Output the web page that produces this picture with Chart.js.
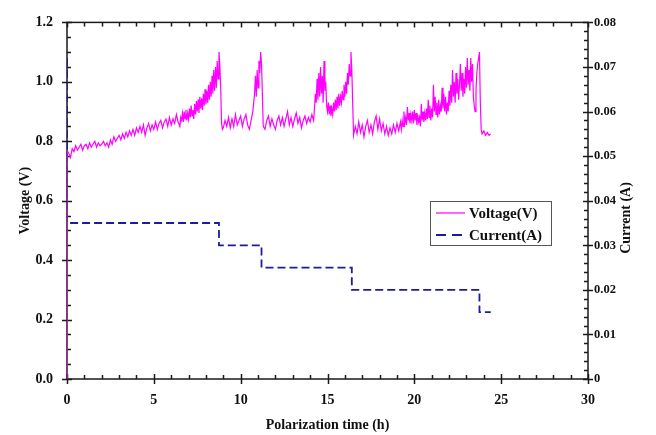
<!DOCTYPE html>
<html>
<head>
<meta charset="utf-8">
<script src="https://cdn.jsdelivr.net/npm/chart.js@4.4.1/dist/chart.umd.min.js"></script>
<style>
html,body{margin:0;padding:0;background:#fff;}
#wrap{width:656px;height:435px;position:relative;}
</style>
</head>
<body>
<div id="wrap"><canvas id="c" width="656" height="435"></canvas></div>
<script>
// ---- data: [time (h), voltage (V)] ----
const voltageReadings = [
[0,0],[0,0.77],[0.1,0.76],[0.2,0.745],[0.3,0.775],[0.4,0.765],[0.5,0.785],[0.6,0.77],[0.7,0.78],[0.8,0.79],[0.9,0.77],
[1.0,0.785],[1.1,0.79],[1.2,0.775],[1.3,0.795],[1.4,0.78],[1.5,0.79],[1.6,0.8],[1.7,0.78],[1.8,0.795],[1.9,0.785],
[2.0,0.79],[2.1,0.8],[2.2,0.785],[2.3,0.795],[2.4,0.78],[2.5,0.805],[2.6,0.79],[2.7,0.815],[2.8,0.8],[2.9,0.81],
[3.0,0.82],[3.1,0.805],[3.2,0.825],[3.3,0.81],[3.4,0.83],[3.5,0.815],[3.6,0.835],[3.7,0.82],[3.8,0.84],[3.9,0.82],
[4.0,0.845],[4.1,0.83],[4.2,0.85],[4.3,0.83],[4.4,0.855],[4.5,0.82],[4.6,0.845],[4.7,0.86],[4.8,0.835],[4.9,0.855],
[5.0,0.84],[5.1,0.865],[5.2,0.84],[5.3,0.86],[5.4,0.87],[5.5,0.845],[5.6,0.865],[5.7,0.875],[5.8,0.85],[5.9,0.88],
[6.0,0.855],[6.1,0.875],[6.2,0.86],[6.3,0.89],[6.4,0.865],[6.5,0.85],[6.55,0.88],[6.6,0.87],[6.65,0.895],[6.7,0.865],
[6.75,0.9],[6.8,0.875],[6.85,0.905],[6.9,0.87],[6.95,0.895],[7.0,0.875],[7.05,0.91],[7.1,0.88],[7.15,0.92],[7.2,0.885],
[7.25,0.905],[7.3,0.875],[7.35,0.925],[7.4,0.89],[7.45,0.935],[7.5,0.9],[7.55,0.94],[7.6,0.895],[7.65,0.95],[7.7,0.91],
[7.75,0.945],[7.8,0.905],[7.85,0.96],[7.9,0.92],[7.95,0.975],[8.0,0.925],[8.05,0.97],[8.1,0.93],[8.15,0.99],[8.2,0.94],
[8.25,1.0],[8.3,0.95],[8.35,1.02],[8.4,0.96],[8.45,1.04],[8.5,0.97],[8.55,1.05],[8.6,0.98],[8.65,1.07],[8.7,1.01],
[8.75,1.10],[8.8,1.06],[8.85,0.98],[8.9,0.86],[8.95,0.84],
[9.0,0.845],[9.1,0.87],[9.2,0.85],[9.3,0.88],[9.4,0.845],[9.5,0.875],[9.6,0.85],[9.7,0.89],[9.8,0.855],[9.9,0.87],
[10.0,0.885],[10.1,0.85],[10.2,0.875],[10.3,0.89],[10.4,0.855],[10.5,0.84],[10.6,0.87],[10.7,0.9],[10.8,0.96],
[10.85,1.02],[10.9,0.95],[10.95,1.04],[11.0,0.98],[11.05,1.07],[11.1,1.03],[11.15,1.10],[11.2,1.06],[11.25,0.96],
[11.3,0.85],[11.4,0.84],[11.5,0.87],[11.6,0.885],[11.7,0.85],[11.8,0.875],[11.9,0.855],
[12.0,0.84],[12.1,0.87],[12.2,0.885],[12.3,0.855],[12.4,0.88],[12.5,0.85],[12.6,0.875],[12.7,0.9],[12.8,0.855],[12.9,0.88],
[13.0,0.85],[13.1,0.875],[13.2,0.895],[13.3,0.86],[13.4,0.88],[13.5,0.845],[13.6,0.87],[13.7,0.885],[13.8,0.86],[13.9,0.88],
[14.0,0.865],[14.1,0.89],[14.2,0.87],[14.25,0.91],[14.3,0.96],[14.35,0.93],[14.4,1.01],[14.45,0.94],[14.5,1.03],
[14.55,0.95],[14.6,1.05],[14.65,0.96],[14.7,1.02],[14.75,0.93],[14.8,1.07],[14.85,0.97],[14.9,1.0],[14.95,0.92],
[15.0,0.9],[15.05,0.93],[15.1,0.89],[15.15,0.92],[15.2,0.885],[15.25,0.91],[15.3,0.89],[15.35,0.93],[15.4,0.9],
[15.45,0.94],[15.5,0.905],[15.55,0.95],[15.6,0.91],[15.65,0.96],[15.7,0.92],[15.75,0.95],[15.8,0.93],[15.85,0.97],
[15.9,0.94],[15.95,0.99],[16.0,0.95],[16.05,1.0],[16.1,0.96],[16.15,1.03],[16.2,0.99],[16.25,1.06],[16.3,1.02],
[16.35,1.10],[16.4,1.04],[16.45,0.93],[16.5,0.82],
[16.6,0.85],[16.7,0.825],[16.8,0.865],[16.9,0.83],[17.0,0.855],[17.1,0.815],[17.2,0.85],[17.3,0.87],[17.4,0.83],
[17.5,0.855],[17.6,0.825],[17.7,0.865],[17.8,0.885],[17.9,0.84],[18.0,0.875],[18.1,0.835],[18.2,0.86],[18.3,0.825],
[18.4,0.85],[18.5,0.82],[18.6,0.845],[18.7,0.825],[18.8,0.855],[18.9,0.83],[19.0,0.86],[19.1,0.835],[19.2,0.865],
[19.25,0.84],[19.3,0.87],[19.35,0.85],[19.4,0.9],[19.45,0.86],[19.5,0.88],[19.55,0.855],[19.6,0.915],[19.65,0.87],
[19.7,0.895],[19.75,0.86],[19.8,0.89],[19.85,0.87],[19.9,0.9],[19.95,0.86],[20.0,0.905],[20.05,0.87],[20.1,0.895],
[20.15,0.855],[20.2,0.89],[20.25,0.865],[20.3,0.88],[20.35,0.85],[20.4,0.925],[20.45,0.87],[20.5,0.9],[20.55,0.865],
[20.6,0.895],[20.65,0.87],[20.7,0.91],[20.75,0.875],[20.8,0.94],[20.85,0.88],[20.9,0.92],[20.95,0.87],[21.0,0.91],
[21.05,0.88],[21.1,0.99],[21.15,0.9],[21.2,0.95],[21.25,0.89],[21.3,0.93],[21.35,0.88],[21.4,0.94],[21.45,0.89],
[21.5,0.92],[21.55,0.9],[21.6,0.98],[21.65,0.91],[21.7,0.96],[21.75,0.9],[21.8,0.95],[21.85,0.89],[21.9,0.93],
[21.95,0.9],[22.0,0.97],[22.05,0.92],[22.1,0.99],[22.15,0.93],[22.2,1.04],[22.25,0.95],[22.3,1.0],[22.35,0.93],
[22.4,1.03],[22.45,0.96],[22.5,1.01],[22.55,0.94],[22.6,0.99],[22.65,1.06],[22.7,0.97],[22.75,1.03],[22.8,0.95],
[22.85,1.01],[22.9,0.96],[22.95,1.05],[23.0,0.98],[23.05,1.08],[23.1,0.99],[23.15,1.04],[23.2,0.97],[23.25,1.08],
[23.3,1.0],[23.35,1.06],[23.4,0.95],[23.45,0.92],[23.5,0.9],[23.55,0.97],[23.6,1.03],[23.65,1.06],[23.7,1.08],
[23.75,1.10],[23.8,0.93],[23.85,0.84],[23.9,0.825],[24.0,0.835],[24.1,0.82],[24.2,0.83],[24.3,0.82],[24.4,0.825]
];
const currentTime = [0, 0, 8.75, 11.2, 16.4, 23.75, 24.4];
const currentValues = [0.072, 0.035, 0.030, 0.025, 0.020, 0.015, 0.015];
const xTicks = [0, 5, 10, 15, 20, 25, 30];
const voltTicks = [0, 0.2, 0.4, 0.6, 0.8, 1.0, 1.2];
const currentTicks = [0, 0.01, 0.02, 0.03, 0.04, 0.05, 0.06, 0.07, 0.08];
const seriesNames = ['Voltage(V)', 'Current(A)'];
const axisTitles = ['Polarization time (h)', 'Voltage (V)', 'Current (A)'];

const FONT = '"Liberation Serif", "Times New Roman", serif';
const tickFont = {family: FONT, size: 14, weight: 'bold'};
const rightTickFont = {family: FONT, size: 12.5, weight: 'bold'};
const titleFont = {family: FONT, size: 14, weight: 'bold'};

const voltPts = voltageReadings.map(p => ({x: p[0], y: p[1]}));
const curPts = currentTime.map((t, i) => ({x: t, y: currentValues[i]}));

const framePlugin = {
  id: 'frame',
  beforeDatasetsDraw(chart) {
    const ctx = chart.ctx, a = chart.chartArea;
    const sx = chart.scales.x, sy = chart.scales.y, sy1 = chart.scales.y1;
    ctx.save();
    ctx.strokeStyle = '#1a1a1a';
    ctx.lineWidth = 1.5;
    ctx.strokeRect(a.left, a.top, a.right - a.left, a.bottom - a.top);
    ctx.beginPath();
    for (let t = 0; t <= 30; t++) {
      const px = Math.round(sx.getPixelForValue(t)) + 0.5;
      if (t % 5 === 0) {
        ctx.moveTo(px, a.bottom + 5); ctx.lineTo(px, a.bottom - 5);
        ctx.moveTo(px, a.top); ctx.lineTo(px, a.top + 5);
      } else {
        ctx.moveTo(px, a.bottom); ctx.lineTo(px, a.bottom - 4);
        ctx.moveTo(px, a.top); ctx.lineTo(px, a.top + 4);
      }
    }
    for (let i = 0; i <= 24; i++) {
      const py = Math.round(sy.getPixelForValue(i * 0.05)) + 0.5;
      if (i % 4 === 0) { ctx.moveTo(a.left - 5, py); ctx.lineTo(a.left + 5, py); }
      else { ctx.moveTo(a.left, py); ctx.lineTo(a.left + 4, py); }
    }
    for (let i = 0; i <= 40; i++) {
      const py = Math.round(sy1.getPixelForValue(i * 0.002)) + 0.5;
      if (i % 5 === 0) { ctx.moveTo(a.right - 5, py); ctx.lineTo(a.right + 5, py); }
      else { ctx.moveTo(a.right - 4, py); ctx.lineTo(a.right, py); }
    }
    ctx.stroke();
    ctx.restore();
  },
  afterDraw(chart) {
    const ctx = chart.ctx, a = chart.chartArea;
    const ds = chart.data.datasets;
    ctx.save();
    // right axis title, reading bottom-to-top
    ctx.font = 'bold 14px ' + FONT;
    ctx.fillStyle = '#111';
    ctx.textAlign = 'center';
    ctx.textBaseline = 'middle';
    ctx.translate(626, 218);
    ctx.rotate(-Math.PI / 2);
    ctx.fillText(axisTitles[2], 0, 0);
    ctx.restore();

    ctx.save();
    const bx = 430.5, by = 201.5, bw = 121, bh = 44;
    ctx.fillStyle = '#fff';
    ctx.fillRect(bx, by, bw, bh);
    ctx.strokeStyle = '#555';
    ctx.lineWidth = 1;
    ctx.strokeRect(bx, by, bw, bh);
    ctx.font = 'bold 15px ' + FONT;
    ctx.textBaseline = 'middle';
    ctx.fillStyle = '#111';
    const rows = [213, 235];
    ds.forEach((d, i) => {
      ctx.beginPath();
      ctx.strokeStyle = d.borderColor;
      ctx.lineWidth = d.borderWidth;
      ctx.setLineDash(i === 0 ? [] : [10, 6]);
      ctx.moveTo(436, rows[i]); ctx.lineTo(465, rows[i]);
      ctx.stroke();
      ctx.setLineDash([]);
      ctx.fillText(d.label, 469, rows[i] + 1);
    });
    ctx.restore();
  }
};

new Chart(document.getElementById('c'), {
  type: 'line',
  data: {
    datasets: [
      {label: seriesNames[0], data: voltPts, yAxisID: 'y', borderColor: '#ff00ff', borderWidth: 1.2, pointRadius: 0, tension: 0, fill: false},
      {label: seriesNames[1], data: curPts, yAxisID: 'y1', borderColor: '#1c1c9c', borderWidth: 1.8, borderDash: [8, 4], stepped: true, pointRadius: 0, fill: false}
    ]
  },
  options: {
    responsive: false,
    animation: false,
    events: [],
    layout: {padding: {top: 19, left: 0, right: 0, bottom: 0}},
    plugins: {legend: {display: false}, tooltip: {enabled: false}},
    scales: {
      x: {
        type: 'linear', min: 0, max: 30,
        afterFit: s => { s.height = 56; },
        afterBuildTicks: s => { s.ticks = xTicks.map(v => ({value: v})); },
        grid: {display: false, drawTicks: false}, border: {display: false},
        ticks: {font: tickFont, color: '#111', padding: 13, maxRotation: 0, callback: v => String(v)},
        title: {display: true, text: axisTitles[0], font: titleFont, color: '#111', padding: {top: 0, bottom: 1}}
      },
      y: {
        type: 'linear', position: 'left', min: 0, max: 1.2,
        afterFit: s => { s.width = 67; },
        afterBuildTicks: s => { s.ticks = voltTicks.map(v => ({value: v})); },
        grid: {display: false, drawTicks: false}, border: {display: false},
        ticks: {font: tickFont, color: '#111', padding: 14, callback: v => Number(v).toFixed(1)},
        title: {display: true, text: axisTitles[1], font: titleFont, color: '#111', padding: {top: 17, bottom: 0}}
      },
      y1: {
        type: 'linear', position: 'right', min: 0, max: 0.08,
        afterFit: s => { s.width = 68; },
        afterBuildTicks: s => { s.ticks = currentTicks.map(v => ({value: v})); },
        grid: {display: false, drawTicks: false}, border: {display: false},
        ticks: {font: rightTickFont, color: '#111', padding: 6, callback: v => (v === 0 ? '0' : Number(v).toFixed(2))},
        title: {display: false}
      }
    }
  },
  plugins: [framePlugin]
});
</script>
</body>
</html>
